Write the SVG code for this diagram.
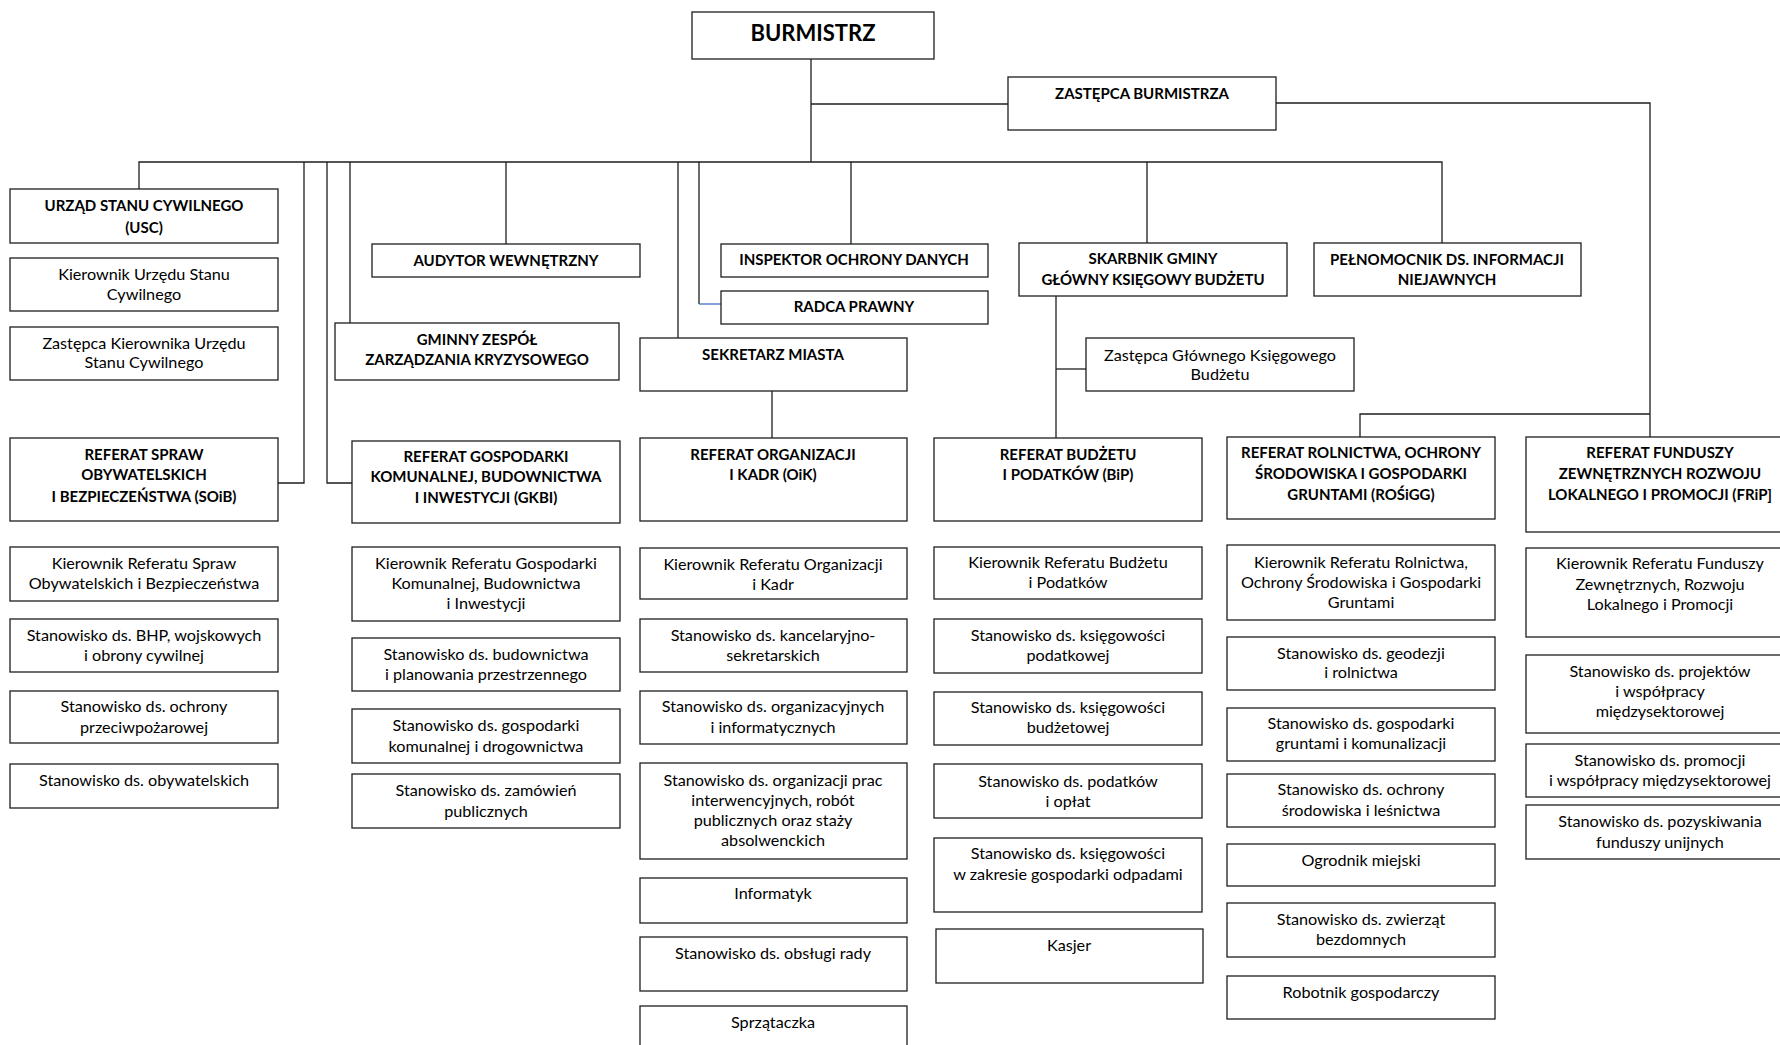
<svg xmlns="http://www.w3.org/2000/svg" width="1780" height="1045" viewBox="0 0 1780 1045">
<style>
.b{fill:#fff;stroke:#1e1e1e;stroke-width:1.3}
.c{fill:none;stroke:#1e1e1e;stroke-width:1.3}
.cb{fill:none;stroke:#4472c4;stroke-width:1.3}
text{font-family:Lato,"Open Sans","Liberation Sans",sans-serif;font-size:16.2px;text-anchor:middle;fill:#000}
.h{font-weight:bold;font-size:15px}
.big{font-weight:bold;font-size:22px}
</style>
<rect x="0" y="0" width="1780" height="1045" fill="#fff"/>
<g id="connectors">
<path class="c" d="M811 59V162"/>
<path class="c" d="M811 104H1008"/>
<path class="c" d="M1276 103H1650V437"/>
<path class="c" d="M1650 414H1360V437"/>
<path class="c" d="M139 189V162H1442V243"/>
<path class="c" d="M304 162V483H278"/>
<path class="c" d="M327 162V483H352"/>
<path class="c" d="M350 162V323"/>
<path class="c" d="M506 162V244"/>
<path class="c" d="M678 162V338"/>
<path class="c" d="M699 162V304"/>
<path class="cb" d="M699 304H721"/>
<path class="c" d="M851 162V244"/>
<path class="c" d="M1147 162V243"/>
<path class="c" d="M772 391V438"/>
<path class="c" d="M1056 296V438"/>
<path class="c" d="M1056 369H1086"/>
</g>
<g id="burmistrz"><rect class="b" x="692" y="12" width="242" height="47"/><text class="big" x="813" y="41">BURMISTRZ</text></g>
<g id="zastepca-burmistrza"><rect class="b" x="1008" y="77" width="268" height="53"/><text class="h" x="1142" y="99">ZASTĘPCA BURMISTRZA</text></g>

<g id="usc"><rect class="b" x="10" y="189" width="268" height="54"/><text class="h" x="144" y="211">URZĄD STANU CYWILNEGO</text><text class="h" x="144" y="233">(USC)</text></g>
<g id="kier-usc"><rect class="b" x="10" y="258" width="268" height="53"/><text x="144" y="280">Kierownik Urzędu Stanu</text><text x="144" y="300">Cywilnego</text></g>
<g id="zast-kier-usc"><rect class="b" x="10" y="327" width="268" height="53"/><text x="144" y="349">Zastępca Kierownika Urzędu</text><text x="144" y="368">Stanu Cywilnego</text></g>

<g id="audytor"><rect class="b" x="372" y="244" width="268" height="33"/><text class="h" x="506" y="266">AUDYTOR WEWNĘTRZNY</text></g>
<g id="gzzk"><rect class="b" x="335" y="323" width="284" height="57"/><text class="h" x="477" y="345">GMINNY ZESPÓŁ</text><text class="h" x="477" y="365">ZARZĄDZANIA KRYZYSOWEGO</text></g>
<g id="inspektor"><rect class="b" x="721" y="244" width="267" height="33"/><text class="h" x="854" y="265">INSPEKTOR OCHRONY DANYCH</text></g>
<g id="radca"><rect class="b" x="721" y="291" width="267" height="33"/><text class="h" x="854" y="312">RADCA PRAWNY</text></g>
<g id="sekretarz"><rect class="b" x="640" y="338" width="267" height="53"/><text class="h" x="773" y="360">SEKRETARZ MIASTA</text></g>
<g id="skarbnik"><rect class="b" x="1019" y="243" width="268" height="53"/><text class="h" x="1153" y="264">SKARBNIK GMINY</text><text class="h" x="1153" y="285">GŁÓWNY KSIĘGOWY BUDŻETU</text></g>
<g id="zast-ksiegowego"><rect class="b" x="1086" y="338" width="268" height="53"/><text x="1220" y="361">Zastępca Głównego Księgowego</text><text x="1220" y="380">Budżetu</text></g>
<g id="pelnomocnik"><rect class="b" x="1314" y="243" width="267" height="53"/><text class="h" x="1447" y="265">PEŁNOMOCNIK DS. INFORMACJI</text><text class="h" x="1447" y="285">NIEJAWNYCH</text></g>

<g id="soib"><rect class="b" x="10" y="438" width="268" height="83"/><text class="h" x="144" y="460">REFERAT SPRAW</text><text class="h" x="144" y="480">OBYWATELSKICH</text><text class="h" x="144" y="502">I BEZPIECZEŃSTWA (SOiB)</text></g>
<g id="gkbi"><rect class="b" x="352" y="441" width="268" height="82"/><text class="h" x="486" y="462">REFERAT GOSPODARKI</text><text class="h" x="486" y="482">KOMUNALNEJ, BUDOWNICTWA</text><text class="h" x="486" y="503">I INWESTYCJI (GKBI)</text></g>
<g id="oik"><rect class="b" x="640" y="438" width="267" height="83"/><text class="h" x="773" y="460">REFERAT ORGANIZACJI</text><text class="h" x="773" y="480">I KADR (OiK)</text></g>
<g id="bip"><rect class="b" x="934" y="438" width="268" height="83"/><text class="h" x="1068" y="460">REFERAT BUDŻETU</text><text class="h" x="1068" y="480">I PODATKÓW (BiP)</text></g>
<g id="rosigg"><rect class="b" x="1227" y="437" width="268" height="82"/><text class="h" x="1361" y="458">REFERAT ROLNICTWA, OCHRONY</text><text class="h" x="1361" y="479">ŚRODOWISKA I GOSPODARKI</text><text class="h" x="1361" y="500">GRUNTAMI (ROŚiGG)</text></g>
<g id="frip"><rect class="b" x="1526" y="437" width="268" height="95"/><text class="h" x="1660" y="458">REFERAT FUNDUSZY</text><text class="h" x="1660" y="479">ZEWNĘTRZNYCH ROZWOJU</text><text class="h" x="1660" y="500">LOKALNEGO I PROMOCJI (FRiP]</text></g>

<g id="soib-1"><rect class="b" x="10" y="547" width="268" height="54"/><text x="144" y="569">Kierownik Referatu Spraw</text><text x="144" y="589">Obywatelskich i Bezpieczeństwa</text></g>
<g id="soib-2"><rect class="b" x="10" y="619" width="268" height="53"/><text x="144" y="641">Stanowisko ds. BHP, wojskowych</text><text x="144" y="661">i obrony cywilnej</text></g>
<g id="soib-3"><rect class="b" x="10" y="691" width="268" height="52"/><text x="144" y="712">Stanowisko ds. ochrony</text><text x="144" y="733">przeciwpożarowej</text></g>
<g id="soib-4"><rect class="b" x="10" y="764" width="268" height="44"/><text x="144" y="786">Stanowisko ds. obywatelskich</text></g>

<g id="gkbi-1"><rect class="b" x="352" y="547" width="268" height="74"/><text x="486" y="569">Kierownik Referatu Gospodarki</text><text x="486" y="589">Komunalnej, Budownictwa</text><text x="486" y="609">i Inwestycji</text></g>
<g id="gkbi-2"><rect class="b" x="352" y="638" width="268" height="53"/><text x="486" y="660">Stanowisko ds. budownictwa</text><text x="486" y="680">i planowania przestrzennego</text></g>
<g id="gkbi-3"><rect class="b" x="352" y="709" width="268" height="54"/><text x="486" y="731">Stanowisko ds. gospodarki</text><text x="486" y="752">komunalnej i drogownictwa</text></g>
<g id="gkbi-4"><rect class="b" x="352" y="774" width="268" height="54"/><text x="486" y="796">Stanowisko ds. zamówień</text><text x="486" y="817">publicznych</text></g>

<g id="oik-1"><rect class="b" x="640" y="548" width="267" height="51"/><text x="773" y="570">Kierownik Referatu Organizacji</text><text x="773" y="590">i Kadr</text></g>
<g id="oik-2"><rect class="b" x="640" y="619" width="267" height="53"/><text x="773" y="641">Stanowisko ds. kancelaryjno-</text><text x="773" y="661">sekretarskich</text></g>
<g id="oik-3"><rect class="b" x="640" y="691" width="267" height="53"/><text x="773" y="712">Stanowisko ds. organizacyjnych</text><text x="773" y="733">i informatycznych</text></g>
<g id="oik-4"><rect class="b" x="640" y="763" width="267" height="96"/><text x="773" y="786">Stanowisko ds. organizacji prac</text><text x="773" y="806">interwencyjnych, robót</text><text x="773" y="826">publicznych oraz staży</text><text x="773" y="846">absolwenckich</text></g>
<g id="oik-5"><rect class="b" x="640" y="878" width="267" height="45"/><text x="773" y="899">Informatyk</text></g>
<g id="oik-6"><rect class="b" x="640" y="937" width="267" height="54"/><text x="773" y="959">Stanowisko ds. obsługi rady</text></g>
<g id="oik-7"><rect class="b" x="640" y="1006" width="267" height="60"/><text x="773" y="1028">Sprzątaczka</text></g>

<g id="bip-1"><rect class="b" x="934" y="547" width="268" height="52"/><text x="1068" y="568">Kierownik Referatu Budżetu</text><text x="1068" y="588">i Podatków</text></g>
<g id="bip-2"><rect class="b" x="934" y="619" width="268" height="54"/><text x="1068" y="641">Stanowisko ds. księgowości</text><text x="1068" y="661">podatkowej</text></g>
<g id="bip-3"><rect class="b" x="934" y="692" width="268" height="53"/><text x="1068" y="713">Stanowisko ds. księgowości</text><text x="1068" y="733">budżetowej</text></g>
<g id="bip-4"><rect class="b" x="934" y="764" width="268" height="54"/><text x="1068" y="787">Stanowisko ds. podatków</text><text x="1068" y="807">i opłat</text></g>
<g id="bip-5"><rect class="b" x="934" y="838" width="268" height="74"/><text x="1068" y="859">Stanowisko ds. księgowości</text><text x="1068" y="880">w zakresie gospodarki odpadami</text></g>
<g id="bip-6"><rect class="b" x="936" y="929" width="267" height="54"/><text x="1069" y="951">Kasjer</text></g>

<g id="rosigg-1"><rect class="b" x="1227" y="545" width="268" height="75"/><text x="1361" y="568">Kierownik Referatu Rolnictwa,</text><text x="1361" y="588">Ochrony Środowiska i Gospodarki</text><text x="1361" y="608">Gruntami</text></g>
<g id="rosigg-2"><rect class="b" x="1227" y="637" width="268" height="53"/><text x="1361" y="659">Stanowisko ds. geodezji</text><text x="1361" y="678">i rolnictwa</text></g>
<g id="rosigg-3"><rect class="b" x="1227" y="708" width="268" height="53"/><text x="1361" y="729">Stanowisko ds. gospodarki</text><text x="1361" y="749">gruntami i komunalizacji</text></g>
<g id="rosigg-4"><rect class="b" x="1227" y="774" width="268" height="53"/><text x="1361" y="795">Stanowisko ds. ochrony</text><text x="1361" y="816">środowiska i leśnictwa</text></g>
<g id="rosigg-5"><rect class="b" x="1227" y="844" width="268" height="42"/><text x="1361" y="866">Ogrodnik miejski</text></g>
<g id="rosigg-6"><rect class="b" x="1227" y="903" width="268" height="54"/><text x="1361" y="925">Stanowisko ds. zwierząt</text><text x="1361" y="945">bezdomnych</text></g>
<g id="rosigg-7"><rect class="b" x="1227" y="976" width="268" height="43"/><text x="1361" y="998">Robotnik gospodarczy</text></g>

<g id="frip-1"><rect class="b" x="1526" y="548" width="268" height="89"/><text x="1660" y="569">Kierownik Referatu Funduszy</text><text x="1660" y="590">Zewnętrznych, Rozwoju</text><text x="1660" y="610">Lokalnego i Promocji</text></g>
<g id="frip-2"><rect class="b" x="1526" y="655" width="268" height="78"/><text x="1660" y="677">Stanowisko ds. projektów</text><text x="1660" y="697">i współpracy</text><text x="1660" y="717">międzysektorowej</text></g>
<g id="frip-3"><rect class="b" x="1526" y="744" width="268" height="53"/><text x="1660" y="766">Stanowisko ds. promocji</text><text x="1660" y="786">i współpracy międzysektorowej</text></g>
<g id="frip-4"><rect class="b" x="1526" y="805" width="268" height="54"/><text x="1660" y="827">Stanowisko ds. pozyskiwania</text><text x="1660" y="848">funduszy unijnych</text></g>
</svg>
